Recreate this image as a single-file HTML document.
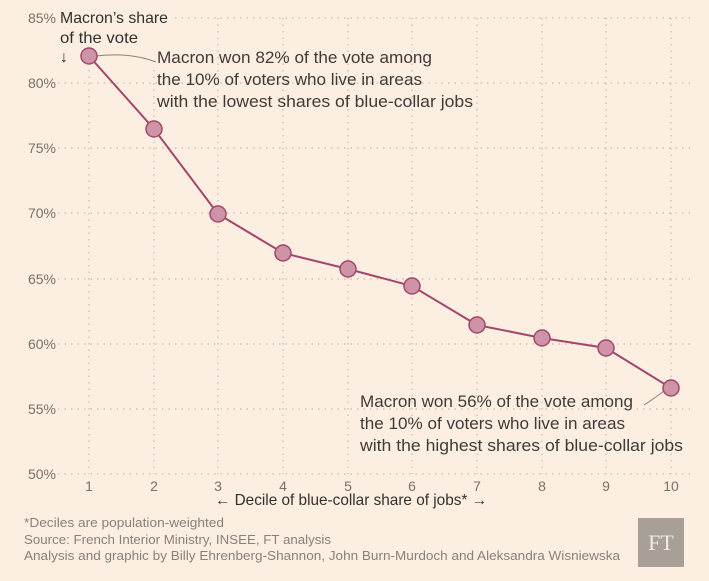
<!DOCTYPE html>
<html><head><meta charset="utf-8"><style>
body{margin:0;background:#fcefe2;}
svg{display:block;font-family:"Liberation Sans",sans-serif;}
</style></head><body>
<svg width="709" height="581" viewBox="0 0 709 581">
<rect width="709" height="581" fill="#fcefe2"/>
<g stroke="#b8aea4" stroke-width="1" stroke-dasharray="1.5,5">
<line x1="58" y1="18" x2="690" y2="18"/><line x1="58" y1="83" x2="690" y2="83"/>
<line x1="58" y1="148" x2="690" y2="148"/><line x1="58" y1="213" x2="690" y2="213"/>
<line x1="58" y1="279" x2="690" y2="279"/><line x1="58" y1="344" x2="690" y2="344"/>
<line x1="58" y1="409" x2="690" y2="409"/><line x1="58" y1="474" x2="690" y2="474"/>
<line x1="89" y1="18" x2="89" y2="474"/><line x1="154" y1="18" x2="154" y2="474"/>
<line x1="218" y1="18" x2="218" y2="474"/><line x1="283" y1="18" x2="283" y2="474"/>
<line x1="348" y1="18" x2="348" y2="474"/><line x1="412" y1="18" x2="412" y2="474"/>
<line x1="477" y1="18" x2="477" y2="474"/><line x1="542" y1="18" x2="542" y2="474"/>
<line x1="606" y1="18" x2="606" y2="474"/><line x1="671" y1="18" x2="671" y2="474"/>
</g>
<g fill="#7a7066" font-size="14" text-anchor="end">
<text x="56" y="23">85%</text><text x="56" y="88">80%</text><text x="56" y="153">75%</text>
<text x="56" y="218">70%</text><text x="56" y="284">65%</text><text x="56" y="349">60%</text>
<text x="56" y="414">55%</text><text x="56" y="479">50%</text>
</g>
<g fill="#7a7066" font-size="14" text-anchor="middle">
<text x="89" y="491">1</text><text x="154" y="491">2</text><text x="218" y="491">3</text>
<text x="283" y="491">4</text><text x="348" y="491">5</text><text x="412" y="491">6</text>
<text x="477" y="491">7</text><text x="542" y="491">8</text><text x="606" y="491">9</text>
<text x="671" y="491">10</text>
</g>
<rect x="58" y="6" width="112" height="60" fill="#fcefe2"/>
<g fill="#33302e" font-size="16">
<text x="60" y="23" textLength="108" lengthAdjust="spacingAndGlyphs">Macron’s share</text>
<text x="60" y="43" textLength="78" lengthAdjust="spacingAndGlyphs">of the vote</text>
<text x="60" y="62">↓</text>
</g>
<path d="M96,56 Q130,52 156,62" fill="none" stroke="#8a8078" stroke-width="1"/>
<path d="M664,391 Q652,400 644,405" fill="none" stroke="#8a8078" stroke-width="1"/>
<polyline points="89,56 154,129 218,214 283,253 348,269 412,286 477,325 542,338 606,348 671,388" fill="none" stroke="#a3476a" stroke-width="2"/>
<g fill="#cf93a8" stroke="#a3476a" stroke-width="1.5">
<circle cx="89" cy="56" r="8"/><circle cx="154" cy="129" r="8"/><circle cx="218" cy="214" r="8"/>
<circle cx="283" cy="253" r="8"/><circle cx="348" cy="269" r="8"/><circle cx="412" cy="286" r="8"/>
<circle cx="477" cy="325" r="8"/><circle cx="542" cy="338" r="8"/><circle cx="606" cy="348" r="8"/>
<circle cx="671" cy="388" r="8"/>
</g>
<g fill="#403b38" font-size="17" lengthAdjust="spacingAndGlyphs">
<text x="157" y="63" textLength="275" lengthAdjust="spacingAndGlyphs">Macron won 82% of the vote among</text>
<text x="157" y="85" textLength="265" lengthAdjust="spacingAndGlyphs">the 10% of voters who live in areas</text>
<text x="157" y="107" textLength="316" lengthAdjust="spacingAndGlyphs">with the lowest shares of blue-collar jobs</text>
<text x="360" y="407" textLength="273" lengthAdjust="spacingAndGlyphs">Macron won 56% of the vote among</text>
<text x="360" y="429" textLength="265" lengthAdjust="spacingAndGlyphs">the 10% of voters who live in areas</text>
<text x="360" y="451" textLength="323" lengthAdjust="spacingAndGlyphs">with the highest shares of blue-collar jobs</text>
</g>
<text x="215" y="505" font-size="16" fill="#33302e" textLength="272" lengthAdjust="spacingAndGlyphs">← Decile of blue-collar share of jobs* →</text>
<g fill="#8a8078" font-size="13">
<text x="24" y="527" textLength="200" lengthAdjust="spacingAndGlyphs">*Deciles are population-weighted</text>
<text x="24" y="544" textLength="307" lengthAdjust="spacingAndGlyphs">Source: French Interior Ministry, INSEE, FT analysis</text>
<text x="24" y="560" textLength="596" lengthAdjust="spacingAndGlyphs">Analysis and graphic by Billy Ehrenberg-Shannon, John Burn-Murdoch and Aleksandra Wisniewska</text>
</g>
<rect x="638" y="518" width="46" height="49" fill="#a8a096"/>
<text x="661" y="550" font-family="Liberation Serif,serif" font-size="22" fill="#f2ebe4" text-anchor="middle">FT</text>
</svg>
</body></html>
